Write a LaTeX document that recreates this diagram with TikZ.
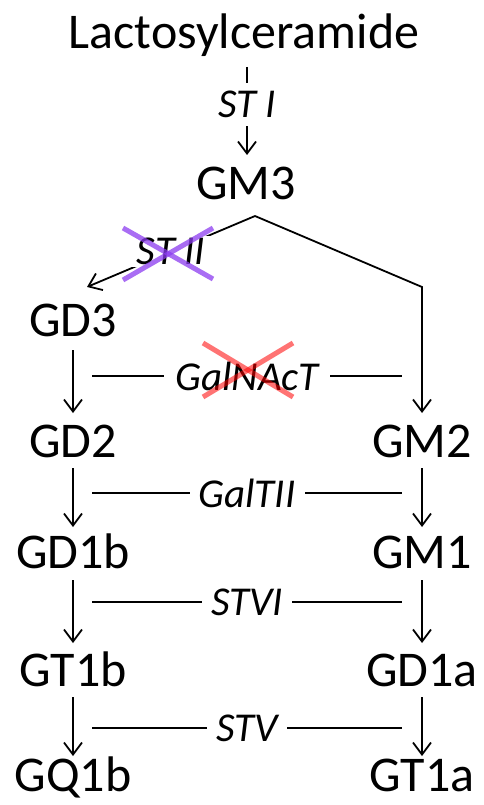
\documentclass[tikz,border=0pt]{standalone}
\usepackage{fontspec}
\setmainfont{Carlito}
\usetikzlibrary{arrows.meta}
\definecolor{xpurple}{RGB}{140,60,240}
\definecolor{xred}{RGB}{255,0,0}
\begin{document}
\begin{tikzpicture}[x=1pt,y=-1pt,
  gname/.style={inner sep=0pt, anchor=base, font=\fontsize{50}{54}\selectfont},
  enz/.style={font=\fontsize{41}{45}\selectfont\itshape, fill=white, inner xsep=9pt, inner ysep=2pt},
  conn/.style={line width=1.8pt},
  arr/.style={conn, -{Straight Barb[length=12pt,width=18pt,line width=1.8pt]}},
  crossp/.style={line width=5pt, draw=xpurple, draw opacity=0.75},
  crossr/.style={line width=5pt, draw=xred, draw opacity=0.55}
]
\useasboundingbox (0,0) rectangle (484,805);
% names
\node[gname] (lac)  at (244,49)  {Lactosylceramide};
\node[gname] (gm3)  at (246,200) {GM3};
\node[gname] (gd3)  at (73,336)  {GD3};
\node[gname] (gd2)  at (73,457)  {GD2};
\node[gname] (gm2)  at (422,457) {GM2};
\node[gname] (gd1b) at (73,568)  {GD1b};
\node[gname] (gm1)  at (422,568) {GM1};
\node[gname] (gt1b) at (73,686)  {GT1b};
\node[gname] (gd1a) at (422,686) {GD1a};
\node[gname] (gq1b) at (73,791)  {GQ1b};
\node[gname] (gt1a) at (422,791) {GT1a};
% Lactosylceramide -> GM3
\draw[arr] ([xshift=3pt,yshift=-18pt]lac.base) -- node[enz, pos=0.43, inner ysep=8pt] (st1) {ST I} ([xshift=1pt,yshift=45pt]gm3.base);
% GM3 branches
\coordinate (apex) at ([xshift=9pt,yshift=-16pt]gm3.base);
\coordinate (lt) at (87,287);
\coordinate (rc) at (422,287);
\draw[arr] (apex) -- node[enz, midway] (st2) {ST II} (lt);
\draw[arr] (apex) -- (rc) -- ([yshift=44pt]gm2.base);
% vertical arrows left
\draw[arr] ([yshift=-14pt]gd3.base) -- ([yshift=44pt]gd2.base);
\draw[arr] ([yshift=-11pt]gd2.base) -- ([yshift=41pt]gd1b.base);
\draw[arr] ([yshift=-12pt]gd1b.base) -- ([yshift=43pt]gt1b.base);
\draw[arr] ([yshift=-11pt]gt1b.base) -- ([yshift=35pt]gq1b.base);
% vertical arrows right
\draw[arr] ([yshift=-11pt]gm2.base) -- ([yshift=41pt]gm1.base);
\draw[arr] ([yshift=-12pt]gm1.base) -- ([yshift=43pt]gd1a.base);
\draw[arr] ([yshift=-11pt]gd1a.base) -- ([yshift=35pt]gt1a.base);
% enzyme bars
\coordinate (h1l) at (92,376); \coordinate (h1r) at (402,376);
\coordinate (h2l) at (92,493); \coordinate (h2r) at (402,493);
\coordinate (h3l) at (92,602); \coordinate (h3r) at (402,602);
\coordinate (h4l) at (92,728); \coordinate (h4r) at (402,728);
\draw[conn] (h1l) -- node[enz, inner xsep=11pt] (galnact) {GalNAcT} (h1r);
\draw[conn] (h2l) -- node[enz] (galtii) {GalTII} (h2r);
\draw[conn] (h3l) -- node[enz] (stvi) {STVI} (h3r);
\draw[conn] (h4l) -- node[enz] (stv) {STV} (h4r);
% crosses
\draw[crossp] (123,228) -- (213,279);
\draw[crossp] (123,280) -- (213,228);
\draw[crossr] (203,343) -- (293,397);
\draw[crossr] (203,397) -- (293,343);
\end{tikzpicture}
\end{document}
